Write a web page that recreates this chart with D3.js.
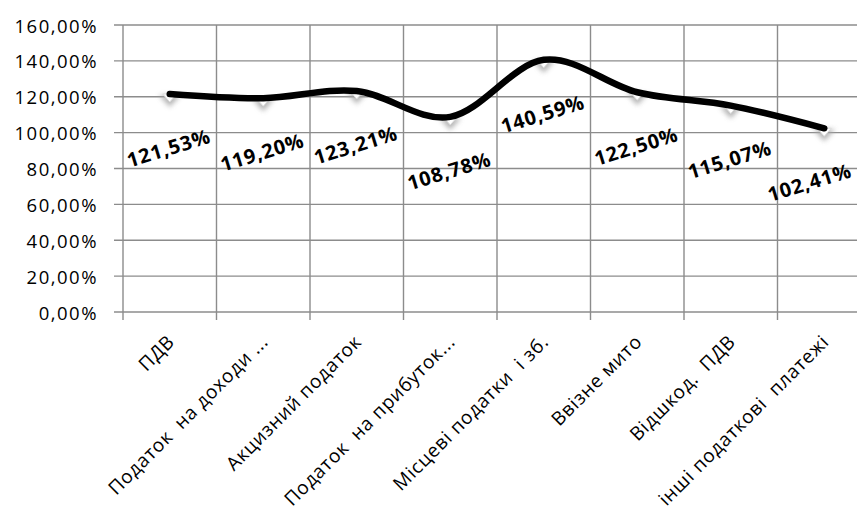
<!DOCTYPE html>
<html>
<head>
<meta charset="utf-8">
<script src="https://cdn.jsdelivr.net/npm/d3@7"></script>
<style>
  html, body { margin: 0; padding: 0; background: #fff; }
  svg { display: block; }
  text { font-family: "Open Sans", "Noto Sans", sans-serif; fill: #000; white-space: pre; }
</style>
</head>
<body>
<svg id="chart" width="857" height="520"></svg>
<script>
// ---- data ----
const categories = [
  "ПДВ",
  "Податок  на доходи ...",
  "Акцизний податок",
  "Податок  на прибуток...",
  "Місцеві податки  і зб.",
  "Ввізне мито",
  "Відшкод.  ПДВ",
  "інші податкові  платежі"
];
const values = [121.53, 119.20, 123.21, 108.78, 140.59, 122.50, 115.07, 102.41];
const yTicks = [0, 20, 40, 60, 80, 100, 120, 140, 160];

// ---- layout ----
const W = 857;
const svg = d3.select("#chart");
const plotL = 123, plotR = 871, plotT = 25, plotB = 312;

const x = d3.scaleBand().domain(categories).range([plotL, plotR]).padding(0);
const y = d3.scaleLinear().domain([0, 160]).range([plotB, plotT]);

const fmt = v => v.toFixed(2).replace(".", ",") + "%";

const grid = svg.append("g");
grid.selectAll("line.h").data(yTicks).join("line")
  .attr("x1", plotL - 9).attr("x2", plotR)
  .attr("y1", d => y(d)).attr("y2", d => y(d))
  .attr("stroke", "#8c8c8c").attr("stroke-width", 1.4);
const bounds = categories.map(c => x(c)).concat([plotR]);
grid.selectAll("line.v").data(bounds).join("line")
  .attr("x1", d => d).attr("x2", d => d)
  .attr("y1", plotT).attr("y2", plotB + 8)
  .attr("stroke", "#8c8c8c").attr("stroke-width", 1.4);

svg.append("g").selectAll("text").data(yTicks).join("text")
  .attr("x", 98).attr("y", d => y(d))
  .attr("text-anchor", "end").attr("dominant-baseline", "central")
  .attr("font-size", 18.5).attr("letter-spacing", 1.5)
  .text(d => fmt(d));

svg.append("g").selectAll("text").data(categories).join("text")
  .attr("transform", d => `translate(${x(d) + x.bandwidth() / 2 + 6},${plotB + 31}) rotate(-45)`)
  .attr("text-anchor", "end")
  .attr("font-size", 19).attr("letter-spacing", 0.7)
  .text(d => d);

const defs = svg.append("defs");
const f = defs.append("filter").attr("id", "soft").attr("x", "-50%").attr("y", "-50%").attr("width", "200%").attr("height", "200%");
f.append("feGaussianBlur").attr("stdDeviation", 2.4);

const cx = d => x(d) + x.bandwidth() / 2;
const mk = svg.append("g");
mk.selectAll("path.sh").data(categories).join("path")
  .attr("d", (d, i) => { const px = cx(d), py = y(values[i]) + 6; return `M${px - 11},${py - 5} L${px + 11},${py - 5} L${px},${py + 7} Z`; })
  .attr("fill", "#a8a8a8").attr("filter", "url(#soft)").attr("opacity", 0.85);
mk.selectAll("path.m").data(categories).join("path")
  .attr("d", (d, i) => { const px = cx(d), py = y(values[i]) + 4; return `M${px - 7},${py - 4} L${px + 7},${py - 4} L${px},${py + 4} Z`; })
  .attr("fill", "#ffffff").attr("stroke", "#dcdcdc").attr("stroke-width", 1);

const line = d3.line()
  .x((d, i) => cx(categories[i]))
  .y(d => y(d))
  .curve(d3.curveCardinal.tension(0));
svg.append("path").datum(values)
  .attr("d", line)
  .attr("fill", "none").attr("stroke", "#000").attr("stroke-width", 6.5)
  .attr("stroke-linecap", "round").attr("stroke-linejoin", "round");

const labels = svg.append("g").selectAll("text").data(categories).join("text")
  .attr("text-anchor", "middle")
  .attr("font-size", 20).attr("font-weight", "bold").attr("letter-spacing", 0.8)
  .text((d, i) => fmt(values[i]));
labels.each(function(d, i) {
  const w = this.getComputedTextLength();
  // keep rotated label inside the chart's right edge
  let px = cx(d) + 1;
  const half = w / 2 * Math.cos(17 * Math.PI / 180) + 3;
  if (px + half > W - 1) px = W - 1 - half;
  d3.select(this).attr("transform", `translate(${px},${y(values[i]) + 61}) rotate(-17)`);
});
</script>
</body>
</html>
